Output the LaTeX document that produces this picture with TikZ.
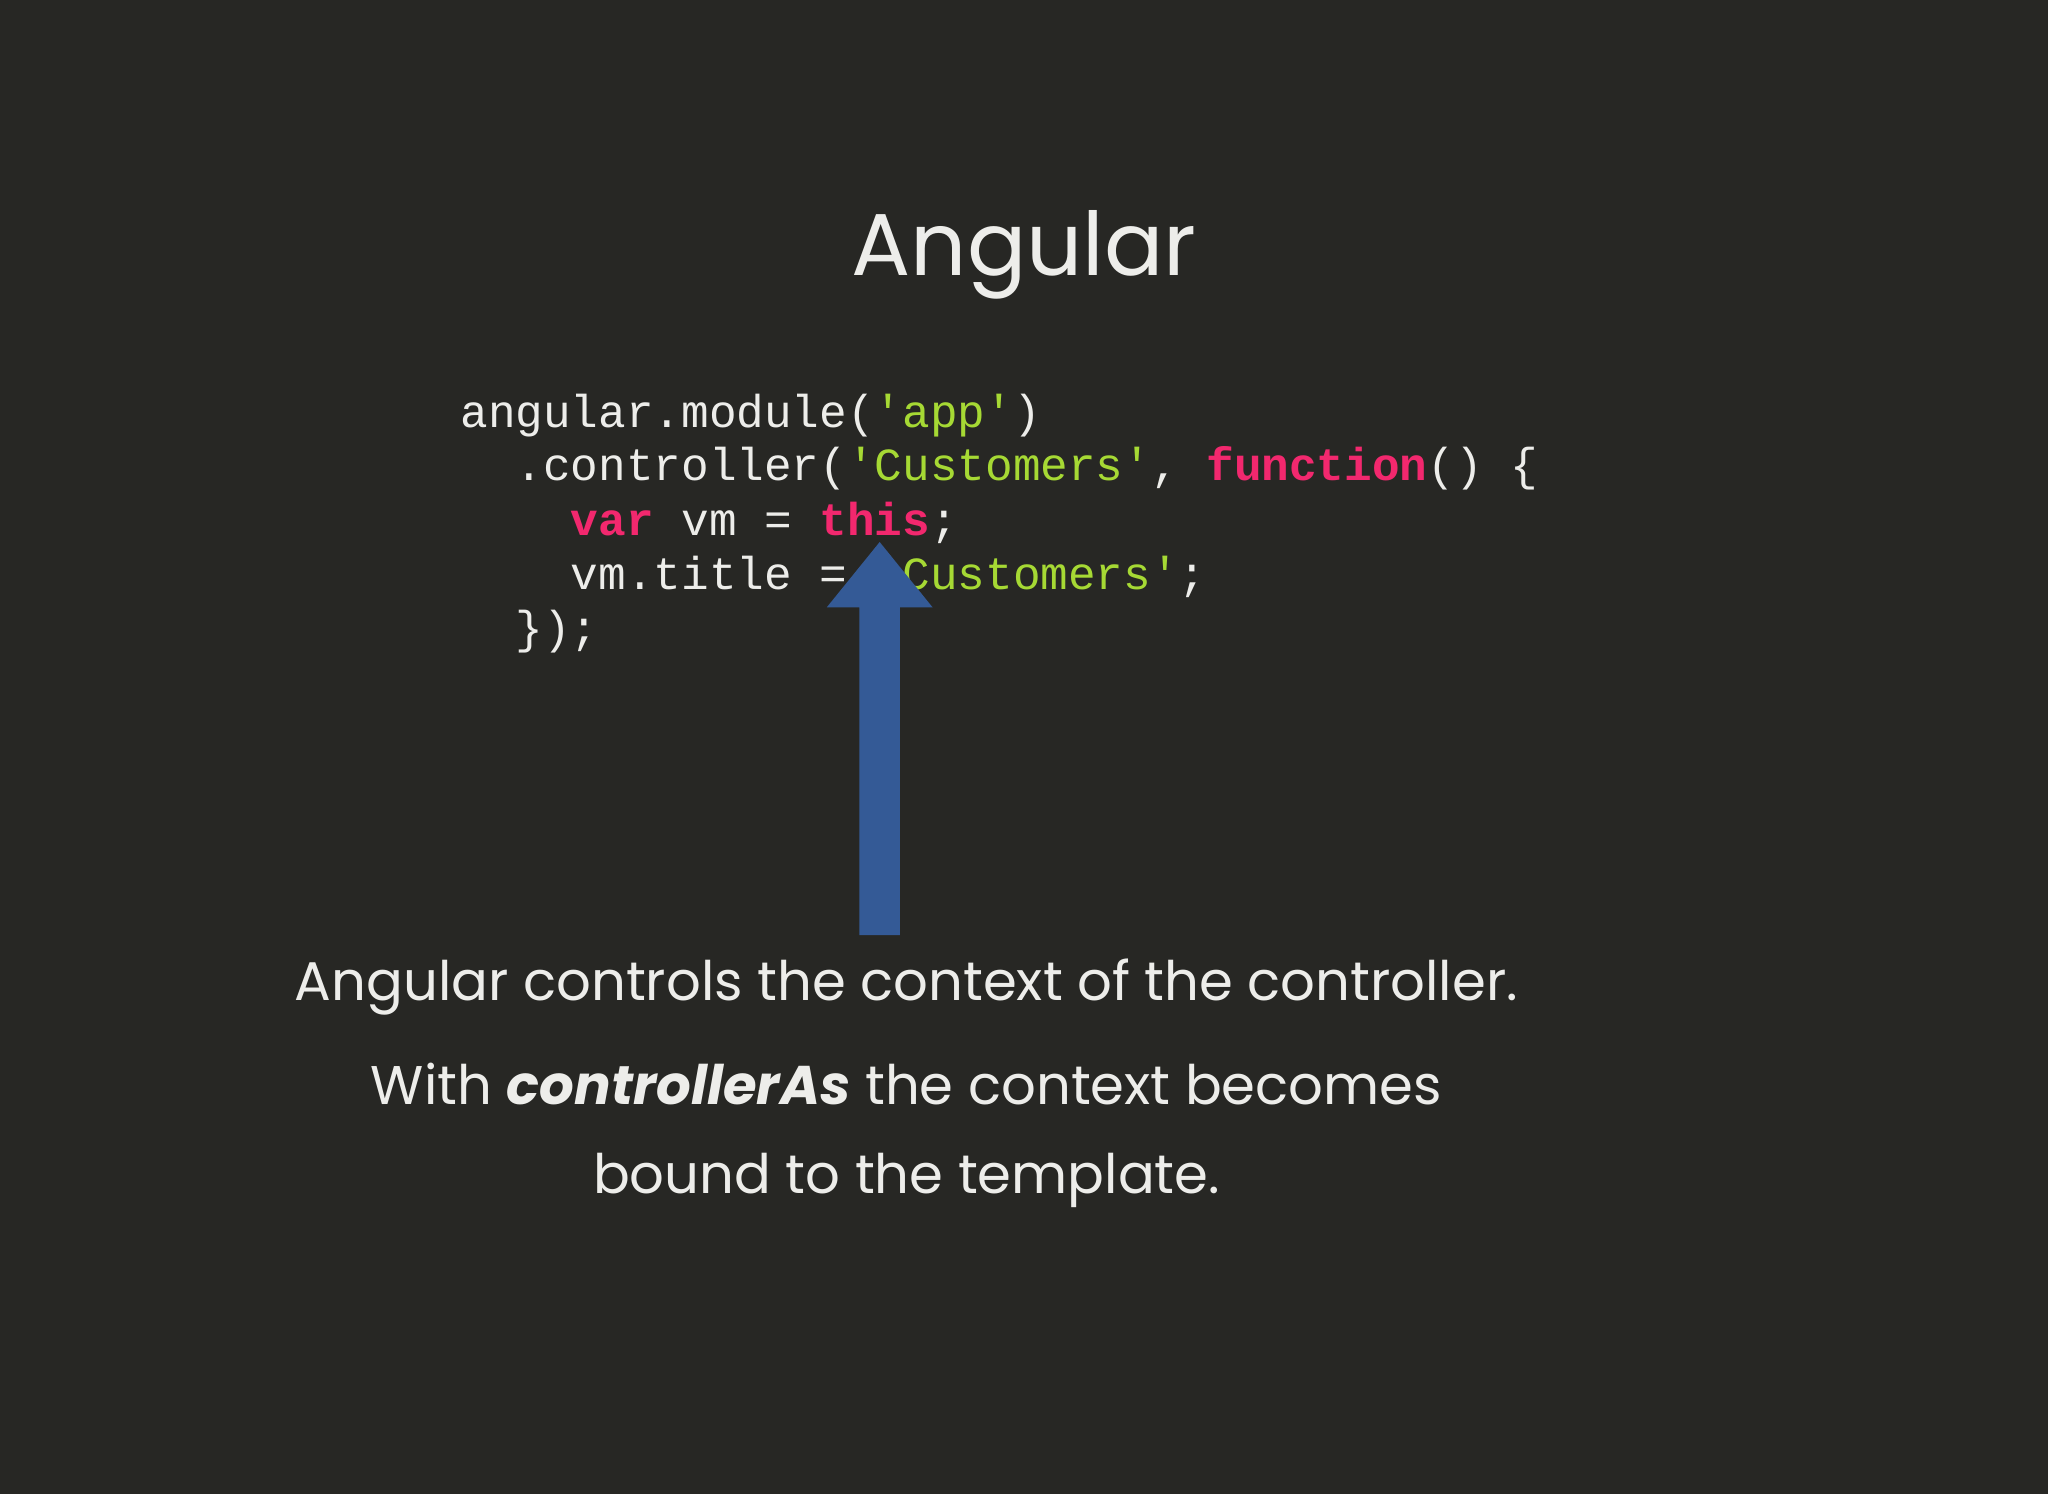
\documentclass[tikz,border=0pt]{standalone}
\usepackage{fontspec}
\setmainfont{Poppins}
\setmonofont{Liberation Mono}
\definecolor{bg}{HTML}{272724}
\definecolor{fg}{HTML}{EDEDEA}
\definecolor{str}{HTML}{A6D934}
\definecolor{kw}{HTML}{F2286E}
\definecolor{arr}{HTML}{345A96}
\newcommand{\s}[1]{\textcolor{str}{#1}}
\newcommand{\kw}[1]{\textcolor{kw}{\bfseries #1}}
\begin{document}
\begin{tikzpicture}[x=0.013061cm,y=-0.013061cm,
  code/.style={anchor=base west,inner sep=0,text=fg,font=\ttfamily\fontsize{13.1}{15}\selectfont},
  body/.style={inner sep=0,text=fg,font=\fontsize{15.5}{18}\selectfont}]
\fill[bg] (0,0) rectangle (1568,1144);
\useasboundingbox (0,0) rectangle (1568,1144);
\node[inner sep=0,text=fg,font=\fontsize{25}{30}\selectfont] (title) at (784,195) {Angular};
\node[code] (l1) at (352,327) {angular.module(\s{'app'})};
\node[code] (l2) at (352,368) {~~.controller(\s{'Customers'}, \kw{function}() \{};
\node[code] (l3) at (352,410) {~~~~\kw{var} vm = \kw{this};};
\node[code] (l4) at (352,451) {~~~~vm.title = \s{'Customers'};};
\node[code] (l5) at (352,493) {~~\});};
\fill[arr] (658,716) -- (658,465) -- (633,465) -- (673.5,415) -- (714,465) -- (689,465) -- (689,716) -- cycle;
\node[body] (t1) at (694,756) {Angular controls the context of the controller.};
\node[body] (t2) at (694,830) {With \textbf{\itshape controllerAs} the context becomes};
\node[body] (t3) at (694,904) {bound to the template.};
\end{tikzpicture}
\end{document}
